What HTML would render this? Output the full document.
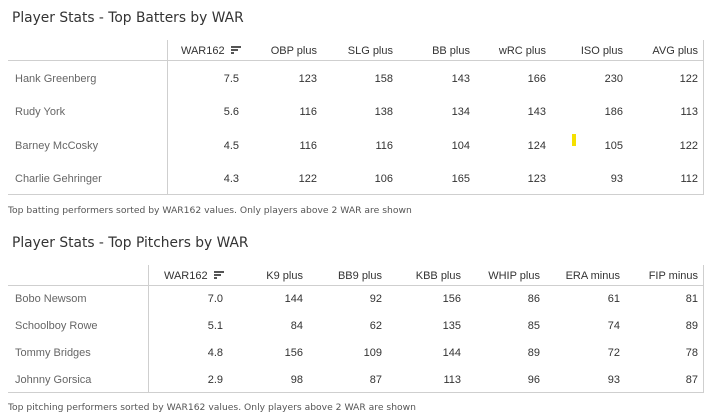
<!DOCTYPE html>
<html><head><meta charset="utf-8">
<style>
html,body{margin:0;padding:0;background:#fff;}
body{width:715px;height:419px;position:relative;overflow:hidden;font-family:"Liberation Sans",sans-serif;}
.t{position:absolute;font-family:"Comic Sans MS","DejaVu Sans","Liberation Sans",sans-serif;color:#333;white-space:nowrap;}
.c{position:absolute;font-size:11px;line-height:14px;white-space:nowrap;color:#333;}
.n{color:#666;text-align:left;}
.r{text-align:right;}
.h{position:absolute;height:1px;background:#cfcfcf;}
.v{position:absolute;width:1px;background:#cfcfcf;}
.bar{position:absolute;height:2px;background:#555;}
</style></head><body>

<div class="t" style="left:12px;top:8px;font-size:13.8px;line-height:20px;">Player Stats - Top Batters by WAR</div>

<div class="h" style="left:8px;top:60px;width:696px;"></div>
<div class="h" style="left:8px;top:194px;width:696px;"></div>
<div class="v" style="left:167px;top:40px;height:155px;"></div>
<div class="v" style="left:703px;top:40px;height:155px;"></div>

<div class="c" style="left:181px;top:44px;">WAR162</div>
<div class="bar" style="left:231px;top:46px;width:10px;"></div>
<div class="bar" style="left:231px;top:49px;width:7px;"></div>
<div class="bar" style="left:231px;top:52px;width:3px;"></div>
<div class="c r" style="left:217px;width:100px;top:44px;">OBP plus</div>
<div class="c r" style="left:293px;width:100px;top:44px;">SLG plus</div>
<div class="c r" style="left:370px;width:100px;top:44px;">BB plus</div>
<div class="c r" style="left:446px;width:100px;top:44px;">wRC plus</div>
<div class="c r" style="left:523px;width:100px;top:44px;">ISO plus</div>
<div class="c r" style="left:598px;width:100px;top:44px;">AVG plus</div>

<div class="c n" style="left:15px;top:72px;">Hank Greenberg</div>
<div class="c r" style="left:139px;width:100px;top:72px;">7.5</div>
<div class="c r" style="left:217px;width:100px;top:72px;">123</div>
<div class="c r" style="left:293px;width:100px;top:72px;">158</div>
<div class="c r" style="left:370px;width:100px;top:72px;">143</div>
<div class="c r" style="left:446px;width:100px;top:72px;">166</div>
<div class="c r" style="left:523px;width:100px;top:72px;">230</div>
<div class="c r" style="left:598px;width:100px;top:72px;">122</div>

<div class="c n" style="left:15px;top:105px;">Rudy York</div>
<div class="c r" style="left:139px;width:100px;top:105px;">5.6</div>
<div class="c r" style="left:217px;width:100px;top:105px;">116</div>
<div class="c r" style="left:293px;width:100px;top:105px;">138</div>
<div class="c r" style="left:370px;width:100px;top:105px;">134</div>
<div class="c r" style="left:446px;width:100px;top:105px;">143</div>
<div class="c r" style="left:523px;width:100px;top:105px;">186</div>
<div class="c r" style="left:598px;width:100px;top:105px;">113</div>

<div class="c n" style="left:15px;top:139px;">Barney McCosky</div>
<div class="c r" style="left:139px;width:100px;top:139px;">4.5</div>
<div class="c r" style="left:217px;width:100px;top:139px;">116</div>
<div class="c r" style="left:293px;width:100px;top:139px;">116</div>
<div class="c r" style="left:370px;width:100px;top:139px;">104</div>
<div class="c r" style="left:446px;width:100px;top:139px;">124</div>
<div style="position:absolute;left:572px;top:134px;width:4px;height:12px;background:#f5e000;"></div>
<div class="c r" style="left:523px;width:100px;top:139px;">105</div>
<div class="c r" style="left:598px;width:100px;top:139px;">122</div>

<div class="c n" style="left:15px;top:172px;">Charlie Gehringer</div>
<div class="c r" style="left:139px;width:100px;top:172px;">4.3</div>
<div class="c r" style="left:217px;width:100px;top:172px;">122</div>
<div class="c r" style="left:293px;width:100px;top:172px;">106</div>
<div class="c r" style="left:370px;width:100px;top:172px;">165</div>
<div class="c r" style="left:446px;width:100px;top:172px;">123</div>
<div class="c r" style="left:523px;width:100px;top:172px;">93</div>
<div class="c r" style="left:598px;width:100px;top:172px;">112</div>

<div class="t" style="left:8px;top:204px;font-size:9.2px;line-height:14px;color:#555;">Top batting performers sorted by WAR162 values. Only players above 2 WAR are shown</div>

<div class="t" style="left:12px;top:233px;font-size:13.8px;line-height:20px;">Player Stats - Top Pitchers by WAR</div>

<div class="h" style="left:8px;top:285px;width:696px;"></div>
<div class="h" style="left:8px;top:392px;width:696px;"></div>
<div class="v" style="left:148px;top:265px;height:128px;"></div>
<div class="v" style="left:703px;top:265px;height:128px;"></div>

<div class="c" style="left:164px;top:269px;">WAR162</div>
<div class="bar" style="left:214px;top:271px;width:10px;"></div>
<div class="bar" style="left:214px;top:274px;width:7px;"></div>
<div class="bar" style="left:214px;top:277px;width:3px;"></div>
<div class="c r" style="left:203px;width:100px;top:269px;">K9 plus</div>
<div class="c r" style="left:282px;width:100px;top:269px;">BB9 plus</div>
<div class="c r" style="left:361px;width:100px;top:269px;">KBB plus</div>
<div class="c r" style="left:440px;width:100px;top:269px;">WHIP plus</div>
<div class="c r" style="left:520px;width:100px;top:269px;">ERA minus</div>
<div class="c r" style="left:598px;width:100px;top:269px;">FIP minus</div>

<div class="c n" style="left:15px;top:292px;">Bobo Newsom</div>
<div class="c r" style="left:123px;width:100px;top:292px;">7.0</div>
<div class="c r" style="left:203px;width:100px;top:292px;">144</div>
<div class="c r" style="left:282px;width:100px;top:292px;">92</div>
<div class="c r" style="left:361px;width:100px;top:292px;">156</div>
<div class="c r" style="left:440px;width:100px;top:292px;">86</div>
<div class="c r" style="left:520px;width:100px;top:292px;">61</div>
<div class="c r" style="left:598px;width:100px;top:292px;">81</div>

<div class="c n" style="left:15px;top:319px;">Schoolboy Rowe</div>
<div class="c r" style="left:123px;width:100px;top:319px;">5.1</div>
<div class="c r" style="left:203px;width:100px;top:319px;">84</div>
<div class="c r" style="left:282px;width:100px;top:319px;">62</div>
<div class="c r" style="left:361px;width:100px;top:319px;">135</div>
<div class="c r" style="left:440px;width:100px;top:319px;">85</div>
<div class="c r" style="left:520px;width:100px;top:319px;">74</div>
<div class="c r" style="left:598px;width:100px;top:319px;">89</div>

<div class="c n" style="left:15px;top:346px;">Tommy Bridges</div>
<div class="c r" style="left:123px;width:100px;top:346px;">4.8</div>
<div class="c r" style="left:203px;width:100px;top:346px;">156</div>
<div class="c r" style="left:282px;width:100px;top:346px;">109</div>
<div class="c r" style="left:361px;width:100px;top:346px;">144</div>
<div class="c r" style="left:440px;width:100px;top:346px;">89</div>
<div class="c r" style="left:520px;width:100px;top:346px;">72</div>
<div class="c r" style="left:598px;width:100px;top:346px;">78</div>

<div class="c n" style="left:15px;top:373px;">Johnny Gorsica</div>
<div class="c r" style="left:123px;width:100px;top:373px;">2.9</div>
<div class="c r" style="left:203px;width:100px;top:373px;">98</div>
<div class="c r" style="left:282px;width:100px;top:373px;">87</div>
<div class="c r" style="left:361px;width:100px;top:373px;">113</div>
<div class="c r" style="left:440px;width:100px;top:373px;">96</div>
<div class="c r" style="left:520px;width:100px;top:373px;">93</div>
<div class="c r" style="left:598px;width:100px;top:373px;">87</div>

<div class="t" style="left:8px;top:401px;font-size:9.2px;line-height:14px;color:#555;">Top pitching performers sorted by WAR162 values. Only players above 2 WAR are shown</div>

</body></html>
